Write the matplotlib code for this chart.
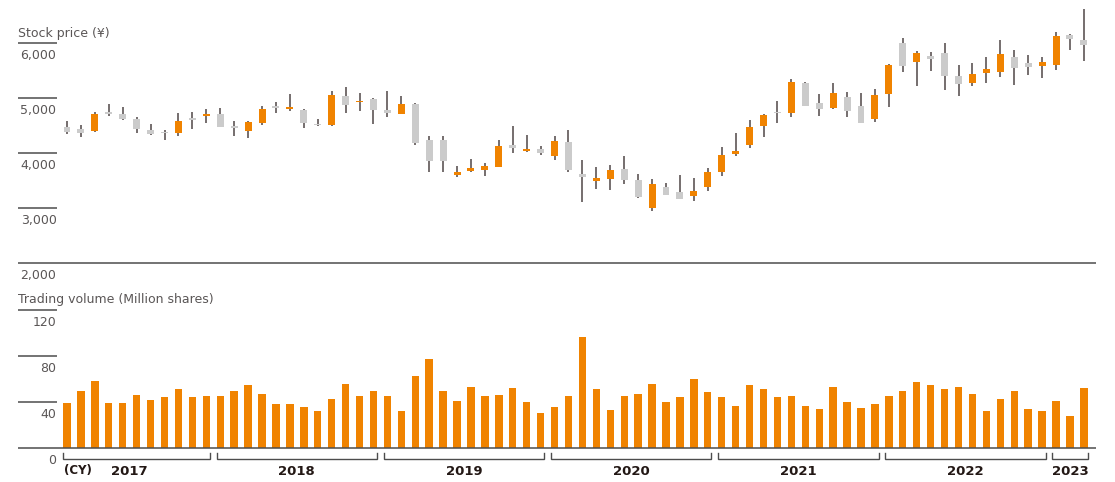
import matplotlib
matplotlib.use("Agg")
import matplotlib.pyplot as plt
from matplotlib.transforms import offset_copy

# ---------------- data (monthly, Feb 2017 - Mar 2023) ----------------
price_open = [4473, 4436, 4400, 4735, 4709, 4618, 4418, 4385, 4369, 4625, 4685,
              4709, 4496, 4406, 4551, 4855, 4805, 4782, 4530, 4509, 5036, 4930, 4982,
              4782, 4715, 4891, 4236, 4236, 3605, 3673, 3691, 3745, 4145, 4036, 4073,
              3951, 4200, 3618, 3497, 3527, 3709, 3509, 3005, 3382, 3291, 3224, 3387,
              3660, 3987, 4151, 4491, 4745, 4727, 5273, 4909, 4818, 5018, 4855, 4618,
              5073, 6000, 5660, 5764, 5818, 5400, 5278, 5460, 5478, 5745, 5636, 5587,
              5605, 6145, 6055]
price_high = [4576, 4504, 4740, 4896, 4836, 4660, 4527, 4413, 4722, 4745, 4795,
              4824, 4582, 4582, 4855, 4933, 5073, 4800, 4618, 5127, 5200, 5091, 5000,
              5127, 5036, 4915, 4309, 4309, 3764, 3891, 3818, 4236, 4491, 4327, 4122,
              4309, 4418, 3873, 3745, 3782, 3940, 3618, 3522, 3455, 3600, 3545, 3722,
              4104, 4369, 4600, 4709, 4945, 5340, 5291, 5073, 5273, 5115, 5091, 5164,
              5610, 6085, 5855, 5842, 6005, 5596, 5636, 5751, 6055, 5867, 5782, 5751,
              6200, 6169, 6613]
price_low = [4340, 4296, 4387, 4673, 4600, 4369, 4327, 4231, 4314, 4431, 4551,
             4478, 4309, 4278, 4509, 4733, 4764, 4460, 4491, 4485, 4733, 4758, 4527,
             4660, 4715, 4145, 3660, 3660, 3569, 3660, 3587, 3740, 3995, 4013, 3969,
             3867, 3649, 3115, 3340, 3327, 3436, 3182, 2942, 3242, 3169, 3133, 3315,
             3587, 3951, 4096, 4296, 4551, 4655, 4855, 4673, 4800, 4660, 4551, 4569,
             4836, 5478, 5218, 5491, 5140, 5042, 5224, 5278, 5387, 5242, 5424, 5369,
             5514, 5873, 5673]
price_close = [4387, 4369, 4709, 4720, 4618, 4436, 4351, 4370, 4582, 4612, 4700,
               4478, 4460, 4564, 4800, 4824, 4836, 4551, 4515, 5055, 4878, 4950, 4782,
               4733, 4896, 4176, 3860, 3860, 3655, 3727, 3764, 4127, 4091, 4073, 4006,
               4218, 3697, 3569, 3545, 3691, 3509, 3200, 3436, 3242, 3169, 3309, 3655,
               3964, 4036, 4473, 4691, 4735, 5291, 4855, 4800, 5091, 4764, 4551, 5055,
               5600, 5587, 5818, 5715, 5405, 5260, 5436, 5527, 5800, 5551, 5569, 5655,
               6127, 6078, 5969]
volume = [39.1, 49.3, 58.0, 39.1, 39.1, 45.8, 41.5, 44.3, 51.3, 44.3, 45.2,
          45.2, 49.3, 54.5, 46.7, 38.3, 38.3, 35.7, 32.2, 42.6, 55.7, 45.2, 49.3,
          45.0, 31.9, 62.3, 77.1, 49.3, 40.6, 52.8, 45.0, 45.8, 51.9, 39.7, 30.2,
          35.4, 45.0, 96.3, 51.0, 32.8, 45.0, 46.7, 55.4, 39.7, 44.1, 59.7, 48.4,
          44.1, 36.2, 54.5, 51.0, 44.1, 45.0, 36.2, 33.6, 52.8, 39.7, 34.5, 38.0,
          45.0, 49.3, 57.1, 54.5, 51.0, 52.8, 46.7, 31.9, 42.3, 49.3, 33.6, 31.9,
          40.6, 27.5, 51.9]
years = ["2017", "2018", "2019", "2020", "2021", "2022", "2023"]
months_per_year = [11, 12, 12, 12, 12, 12, 3]
price_ticks = [3000, 4000, 5000, 6000]
price_base = 2000
volume_ticks = [40, 80, 120]

# ---------------- style ----------------
ORANGE = "#F08300"
GRAY = "#CBCBCB"
WICK = "#4F4747"
LINE = "#4D4D4D"
TXT = "#5A5656"
DARK = "#231815"
FONT = "DejaVu Sans"

W, H = 1115, 482
fig = plt.figure(figsize=(W / 100, H / 100), dpi=100)


def px_axes(x0, y0, x1, y1):
    return fig.add_axes([x0 / W, 1 - y1 / H, (x1 - x0) / W, (y1 - y0) / H])


X0, X1 = 18, 1096
first_c, step = 67.0, 13.93
xlim = ((X0 - first_c) / step, (X1 - first_c) / step)
short_frac = (56.5 - X0) / (X1 - X0)
label_x = xlim[0] + short_frac * (xlim[1] - xlim[0])

n = len(volume)
xs = list(range(n))

# ---------------- price panel ----------------
axp = px_axes(X0, 0, X1, 285)
ppx = 0.055  # pixels per yen
axp.set_xlim(*xlim)
axp.set_ylim(price_base - 22 / ppx, price_base + 263 / ppx)
axp.axis("off")

axp.axhline(price_base, color=LINE, lw=1.1, zorder=3)
axp.hlines(price_ticks, 0, short_frac, transform=axp.get_yaxis_transform(),
           color=LINE, lw=1.1)
lab_tr = offset_copy(axp.transData, fig=fig, x=0, y=-12.5, units="dots")
for v in price_ticks + [price_base]:
    axp.text(label_x, v, f"{v:,}", transform=lab_tr, ha="right", va="center",
             fontsize=9, color=TXT, family=FONT)
title_tr = offset_copy(axp.transData, fig=fig, x=0, y=10, units="dots")
axp.text(xlim[0], price_ticks[-1], "Stock price (¥)", transform=title_tr,
         ha="left", va="center", fontsize=9, color=TXT, family=FONT)

min_body = 1.4 / ppx
for i in xs:
    o, h, l, c = price_open[i], price_high[i], price_low[i], price_close[i]
    up = c >= o
    axp.vlines(i, l, h, color=WICK, lw=1.1, zorder=1)
    lo = min(o, c)
    hgt = abs(c - o)
    if hgt < min_body:
        lo = (o + c) / 2 - min_body / 2
        hgt = min_body
    axp.bar(i, hgt, bottom=lo, width=0.5, color=ORANGE if up else GRAY,
            zorder=2, linewidth=0)

# ---------------- volume panel ----------------
axv = px_axes(X0, 290, X1, H)
vpx = 1.15  # pixels per million shares
axv.set_xlim(*xlim)
axv.set_ylim((447.7 - H) / vpx, (447.7 - 290) / vpx)
axv.axis("off")

axv.bar(xs, volume, width=0.53, color=ORANGE, linewidth=0, zorder=2)
axv.axhline(0, color=LINE, lw=1.1, zorder=3)
axv.hlines(volume_ticks, 0, short_frac, transform=axv.get_yaxis_transform(),
           color=LINE, lw=1.1)
vlab_tr = offset_copy(axv.transData, fig=fig, x=0, y=-12.5, units="dots")
for v in volume_ticks + [0]:
    axv.text(label_x, v, f"{v}", transform=vlab_tr, ha="right", va="center",
             fontsize=9, color=TXT, family=FONT)
vtitle_tr = offset_copy(axv.transData, fig=fig, x=0, y=10, units="dots")
axv.text(xlim[0], volume_ticks[-1], "Trading volume (Million shares)",
         transform=vtitle_tr, ha="left", va="center", fontsize=9,
         color=TXT, family=FONT)

# year brackets
br_y = -11.6 / vpx
br_tick = -5.0 / vpx
lab_y = -24.0 / vpx
start = 0
for k, (yr, cnt) in enumerate(zip(years, months_per_year)):
    s, e = start, start + cnt - 1
    xa, xb = s - 0.26, e + 0.26
    axv.plot([xa, xa, xb, xb], [br_tick, br_y, br_y, br_tick], color=LINE,
             lw=1.0, clip_on=False, solid_joinstyle="miter")
    cx = (s + e) / 2 - (0.5 if k == 0 else 0)
    axv.text(cx, lab_y, yr, ha="center", va="center", fontsize=9.5,
             fontweight="bold", color=DARK, family=FONT)
    start += cnt
axv.text(-0.2, -23.0 / vpx, "(CY)", ha="left", va="center", fontsize=8.5,
         fontweight="bold", color=DARK, family=FONT)

fig.savefig("out.png", dpi=100)
